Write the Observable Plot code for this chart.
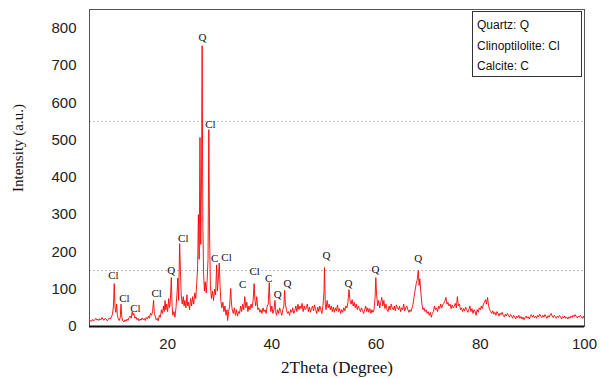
<!DOCTYPE html>
<html>
<head>
<meta charset="utf-8">
<script src="https://cdn.jsdelivr.net/npm/d3@7"></script>
<script src="https://cdn.jsdelivr.net/npm/@observablehq/plot@0.6"></script>
<style>
  body { margin: 0; background: #fff; }
  #wrap { position: relative; width: 602px; height: 378px; }
  .lbl { position: absolute; font-family: "Liberation Serif", "Times New Roman", serif; color: #111; white-space: nowrap; }
  #legend { position: absolute; left: 472px; top: 11px; width: 108px; height: 64px; border: 1px solid #333; background: #fff;
            font-family: "Liberation Sans", Arial, sans-serif; font-size: 12px; color: #111; }
  #legend div { position: absolute; left: 4px; }
</style>
</head>
<body>
<div id="wrap">
  <div id="chart"></div>
  <div class="lbl" id="ylab" style="left:18px; top:148px; font-size:15px; transform: translate(-50%,-50%) rotate(-90deg);">Intensity (a.u.)</div>
  <div class="lbl" id="xlab" style="left:337px; top:368px; font-size:17px; transform: translate(-50%,-50%);">2Theta (Degree)</div>
  <div id="legend"></div>
</div>
<script>
// XRD pattern: [2Theta, intensity]
const pattern = [
[5.0,12],[5.2,16],[5.4,14],[5.6,19],[5.8,15],[6.0,18],[6.2,22],[6.4,17],[6.6,20],[6.8,16],
[7.0,21],[7.2,18],[7.4,24],[7.6,19],[7.8,17],[8.0,22],[8.2,20],[8.4,15],[8.6,19],[8.8,23],
[9.0,20],[9.2,26],[9.4,32],[9.6,55],[9.75,115],[9.9,50],[10.05,38],[10.2,60],[10.35,30],[10.5,22],
[10.7,16],[10.9,24],[11.05,60],[11.2,25],[11.4,15],[11.6,12],[11.8,18],[12.0,14],[12.2,20],[12.4,16],
[12.6,24],[12.8,28],[13.0,22],[13.2,40],[13.35,30],[13.5,35],[13.7,22],[13.9,26],[14.1,18],[14.3,22],
[14.5,15],[14.7,20],[14.9,17],[15.1,23],[15.3,18],[15.5,21],[15.7,16],[15.9,24],[16.1,20],[16.3,28],
[16.5,22],[16.7,35],[16.9,30],[17.1,40],[17.3,70],[17.45,35],[17.6,28],[17.8,18],[18.0,22],[18.2,15],
[18.4,30],[18.6,25],[18.8,45],[19.0,35],[19.2,55],[19.35,40],[19.5,70],[19.65,45],[19.8,60],[20.0,40],
[20.2,75],[20.35,50],[20.5,65],[20.7,131],[20.85,55],[21.0,30],[21.2,40],[21.4,25],[21.6,50],[21.8,90],
[21.95,130],[22.1,70],[22.3,222],[22.45,150],[22.6,85],[22.8,60],[23.0,80],[23.15,55],[23.3,70],[23.5,50],
[23.7,85],[23.85,55],[24.0,65],[24.2,45],[24.4,75],[24.6,55],[24.8,80],[25.0,60],[25.2,90],[25.4,75],
[25.6,120],[25.75,160],[25.9,300],[26.05,180],[26.2,507],[26.35,220],[26.5,400],[26.62,753],[26.75,280],[26.9,140],
[27.05,95],[27.2,120],[27.4,90],[27.6,130],[27.75,180],[27.9,528],[28.05,240],[28.2,110],[28.4,75],[28.6,95],
[28.8,70],[29.0,100],[29.2,85],[29.4,165],[29.55,95],[29.7,120],[29.9,170],[30.05,110],[30.2,70],[30.4,50],
[30.6,65],[30.8,40],[31.0,55],[31.2,30],[31.4,45],[31.5,16],[31.7,40],[31.9,55],[32.1,102],[32.25,60],
[32.4,45],[32.6,35],[32.8,50],[33.0,30],[33.2,45],[33.4,28],[33.6,40],[33.8,35],[34.0,55],[34.2,40],
[34.4,60],[34.6,45],[34.8,80],[35.0,50],[35.2,65],[35.4,40],[35.6,55],[35.8,45],[36.0,60],[36.2,50],
[36.4,70],[36.6,115],[36.75,70],[36.9,55],[37.1,80],[37.3,45],[37.5,50],[37.7,38],[37.9,45],[38.1,35],
[38.3,50],[38.5,40],[38.7,45],[38.9,35],[39.1,55],[39.3,60],[39.5,118],[39.65,60],[39.8,40],[40.0,55],
[40.2,35],[40.4,45],[40.6,70],[40.75,40],[40.9,30],[41.1,45],[41.3,35],[41.5,50],[41.7,40],[41.9,30],
[42.1,45],[42.3,55],[42.45,97],[42.6,60],[42.8,45],[43.0,35],[43.2,40],[43.4,30],[43.6,45],[43.8,38],
[44.0,50],[44.2,35],[44.4,42],[44.6,55],[44.8,40],[45.0,60],[45.2,45],[45.4,55],[45.6,48],[45.8,62],
[46.0,40],[46.2,55],[46.4,45],[46.6,50],[46.8,60],[47.0,40],[47.2,52],[47.4,38],[47.6,48],[47.8,55],
[48.0,42],[48.2,58],[48.4,45],[48.6,35],[48.8,52],[49.0,40],[49.2,55],[49.4,45],[49.6,35],[49.8,55],
[50.0,90],[50.1,158],[50.25,60],[50.4,45],[50.6,70],[50.8,50],[51.0,60],[51.2,45],[51.4,55],[51.6,40],
[51.8,52],[52.0,38],[52.2,50],[52.4,42],[52.6,58],[52.8,40],[53.0,48],[53.2,35],[53.4,45],[53.6,38],
[53.8,50],[54.0,42],[54.2,55],[54.4,50],[54.6,65],[54.8,99],[55.0,70],[55.2,60],[55.4,72],[55.6,55],
[55.8,65],[56.0,50],[56.2,60],[56.4,45],[56.6,55],[56.8,48],[57.0,40],[57.2,50],[57.4,42],[57.6,35],
[57.8,45],[58.0,55],[58.2,40],[58.4,50],[58.6,38],[58.8,48],[59.0,35],[59.2,45],[59.4,38],[59.6,45],
[59.8,75],[59.95,131],[60.1,85],[60.3,55],[60.5,70],[60.7,50],[60.9,65],[61.1,78],[61.3,55],[61.5,70],
[61.7,48],[61.9,60],[62.1,45],[62.3,40],[62.5,55],[62.7,45],[62.9,60],[63.1,50],[63.3,45],[63.5,55],
[63.7,42],[63.9,58],[64.1,50],[64.3,45],[64.5,55],[64.7,40],[64.9,50],[65.1,45],[65.3,60],[65.5,42],
[65.7,50],[65.9,55],[66.1,45],[66.3,38],[66.5,45],[66.7,40],[66.9,50],[67.1,60],[67.3,80],[67.5,98],
[67.7,115],[67.9,125],[68.1,150],[68.25,110],[68.4,128],[68.6,90],[68.8,60],[69.0,45],[69.2,50],[69.4,40],
[69.6,45],[69.8,35],[70.0,40],[70.2,30],[70.4,38],[70.6,25],[70.8,35],[71.0,40],[71.2,55],[71.4,45],
[71.6,50],[71.8,40],[72.0,55],[72.2,48],[72.4,60],[72.6,50],[72.8,58],[73.0,62],[73.2,68],[73.4,78],
[73.6,60],[73.8,65],[74.0,55],[74.2,60],[74.4,48],[74.6,58],[74.8,50],[75.0,55],[75.2,62],[75.4,50],
[75.6,80],[75.8,55],[76.0,60],[76.2,45],[76.4,50],[76.6,40],[76.8,48],[77.0,42],[77.2,52],[77.4,45],
[77.6,38],[77.8,45],[78.0,55],[78.2,40],[78.4,48],[78.6,35],[78.8,45],[79.0,40],[79.2,30],[79.4,45],
[79.6,38],[79.8,50],[80.0,45],[80.2,55],[80.4,48],[80.6,60],[80.8,65],[81.0,72],[81.2,60],[81.4,78],
[81.6,55],[81.8,45],[82.0,40],[82.2,35],[82.4,42],[82.6,33],[82.8,38],[83.0,30],[83.2,40],[83.4,35],
[83.6,28],[83.8,36],[84.0,32],[84.2,38],[84.4,30],[84.6,26],[84.8,33],[85.0,28],[85.2,35],[85.4,30],
[85.6,25],[85.8,32],[86.0,28],[86.2,22],[86.4,30],[86.6,26],[86.8,20],[87.0,28],[87.2,24],[87.4,30],
[87.6,22],[87.8,27],[88.0,20],[88.2,25],[88.4,18],[88.6,24],[88.8,28],[89.0,22],[89.2,26],[89.4,20],
[89.6,27],[89.8,32],[90.0,25],[90.2,30],[90.4,24],[90.6,28],[90.8,22],[91.0,30],[91.2,26],[91.4,33],
[91.6,28],[91.8,24],[92.0,30],[92.2,25],[92.4,32],[92.6,27],[92.8,22],[93.0,29],[93.2,25],[93.4,31],
[93.6,35],[93.8,28],[94.0,24],[94.2,30],[94.4,26],[94.6,22],[94.8,28],[95.0,24],[95.2,30],[95.4,26],
[95.6,20],[95.8,27],[96.0,23],[96.2,28],[96.4,22],[96.6,25],[96.8,20],[97.0,26],[97.2,22],[97.4,28],
[97.6,24],[97.8,30],[98.0,26],[98.2,32],[98.4,27],[98.6,23],[98.8,28],[99.0,25],[99.2,30],[99.4,26],
[99.6,22],[99.8,28],[100.0,20]
];

// Peak labels: phase code, 2Theta, intensity where the label sits
const peakPhase = ["Cl","Cl","Cl","Cl","Q","Cl","Q","Cl","C","Cl","C","Cl","C","Q","Q","Q","Q","Q","Q"];
const peakTheta = [9.6,11.7,13.8,17.9,20.7,23.0,26.7,28.2,29.0,31.3,34.4,36.7,39.4,41.1,43.0,50.5,54.7,59.9,68.1];
const peakLabelY = [137,75,48,88,150,236,775,542,182,185,113,147,129,86,115,190,115,153,182];

const yTicks = [0,100,200,300,400,500,600,700,800];
const xTicks = [20,40,60,80,100];
const refLines = [150,550];
const legendItems = ["Quartz: Q","Clinoptilolite: Cl","Calcite: C"];

const peaks = peakPhase.map((p,i) => ({label: p, x: peakTheta[i], y: peakLabelY[i]}));
const lineData = pattern.map(([x,y]) => ({x, y}));

const chart = Plot.plot({
  width: 602,
  height: 378,
  marginLeft: 89,
  marginRight: 18,
  marginTop: 9,
  marginBottom: 52,
  style: {fontFamily: "'Liberation Sans', Arial, sans-serif", fontSize: "15px", color: "#222", background: "#fff"},
  x: {domain: [5, 100]},
  y: {domain: [0, 850]},
  marks: [
    Plot.ruleY(refLines, {stroke: "#bbb", strokeWidth: 1, strokeDasharray: "2,2"}),
    Plot.line(lineData, {x: "x", y: "y", stroke: "#ff0000", strokeWidth: 0.9}),
    Plot.text(peaks, {x: "x", y: "y", text: "label", fontFamily: "'Liberation Serif', 'Times New Roman', serif", fontSize: 11, fill: "#111"}),
    Plot.frame({stroke: "#555", strokeWidth: 1}),
    Plot.ruleY([0], {stroke: "#111", strokeWidth: 2}),
    Plot.axisY({ticks: yTicks, tickSize: 0, tickPadding: 13, label: null, fontSize: 15}),
    Plot.axisX({ticks: xTicks, tickSize: 0, tickPadding: 12, label: null, fontSize: 15})
  ]
});
document.getElementById("chart").appendChild(chart);

const legend = document.getElementById("legend");
const legendTops = [6, 27, 47];
legendItems.forEach((t, i) => {
  const d = document.createElement("div");
  d.textContent = t;
  d.style.top = legendTops[i] + "px";
  legend.appendChild(d);
});
</script>
</body>
</html>
